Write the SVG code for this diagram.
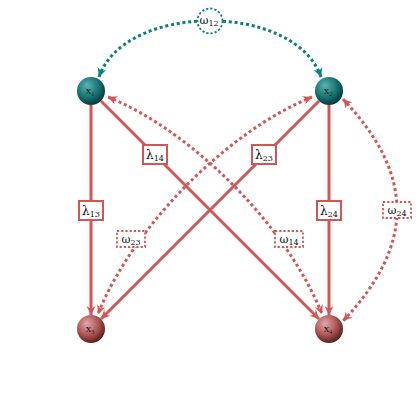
<svg xmlns="http://www.w3.org/2000/svg" width="420" height="420" viewBox="0 0 420 420">
<defs>
<radialGradient id="gT" cx="40%" cy="35%" r="65%" fx="35%" fy="30%">
<stop offset="0" stop-color="#5ab4b4"/>
<stop offset="0.6" stop-color="#1a7474"/>
<stop offset="1" stop-color="#023e3e"/>
</radialGradient>
<radialGradient id="gR" cx="40%" cy="35%" r="65%" fx="35%" fy="30%">
<stop offset="0" stop-color="#e2a8a8"/>
<stop offset="0.6" stop-color="#ad5656"/>
<stop offset="1" stop-color="#5e1f1f"/>
</radialGradient>
<marker id="aR" viewBox="-10 -6 12 12" refX="0" refY="0" markerWidth="12" markerHeight="12" markerUnits="userSpaceOnUse" orient="auto-start-reverse">
<path d="M0,0 L-9,-4.5 L-6,0 L-9,4.5 Z" fill="#d45555"/>
</marker>
<marker id="aT" viewBox="-10 -6 12 12" refX="0" refY="0" markerWidth="12" markerHeight="12" markerUnits="userSpaceOnUse" orient="auto-start-reverse">
<path d="M0,0 L-9,-4.5 L-6,0 L-9,4.5 Z" fill="#0a7f7f"/>
</marker>
</defs>
<style>
.solid{stroke:#d45555;stroke-width:3;fill:none;marker-end:url(#aR)}
.dotR{stroke:#d45555;stroke-width:3;fill:none;stroke-dasharray:3 2.8;marker-end:url(#aR);marker-start:url(#aR)}
.dotT{stroke:#0a7f7f;stroke-width:3;fill:none;stroke-dasharray:3 2.8;marker-end:url(#aT);marker-start:url(#aT)}
.box{fill:#fff;stroke:#d45555;stroke-width:2}
.dbox{fill:#fff;stroke:#d45555;stroke-width:1.8;stroke-dasharray:2.2 2}
.lab{font-family:"DejaVu Serif","Liberation Serif",serif;font-size:12px;fill:#111;text-anchor:middle}
.sub{font-size:8px}
.nl{font-family:"Liberation Serif","DejaVu Serif",serif;font-size:11px;fill:#111;text-anchor:middle}
</style>
<g id="connectors">
<path class="solid" d="M91,105 L91,315"/>
<path class="solid" d="M101,101 L319,319"/>
<path class="solid" d="M319,101 L101,319"/>
<path class="solid" d="M329,105 L329,315"/>
<path class="dotR" d="M312,97 C230,130 134,224 98,314"/>
<path class="dotR" d="M108,97 C190,130 286,224 322,314"/>
<path class="dotR" d="M343,99 C415,175 415,245 343,321"/>
<path class="dotT" d="M99,77 C125,2 295,2 321,77"/>
</g>
<g id="lambda13"><rect class="box" x="79" y="201" width="24" height="19"/><text class="lab" x="91" y="215">λ<tspan class="sub" dy="2">13</tspan></text></g>
<g id="lambda14"><rect class="box" x="143" y="145" width="24" height="19"/><text class="lab" x="155" y="159">λ<tspan class="sub" dy="2">14</tspan></text></g>
<g id="lambda23"><rect class="box" x="252" y="145" width="24" height="19"/><text class="lab" x="264" y="159">λ<tspan class="sub" dy="2">23</tspan></text></g>
<g id="lambda24"><rect class="box" x="317" y="201" width="24" height="19"/><text class="lab" x="329" y="215">λ<tspan class="sub" dy="2">24</tspan></text></g>
<g id="omega23"><rect class="dbox" x="117" y="231" width="28" height="16"/><text class="lab" x="131" y="243" style="font-size:11px">ω<tspan class="sub" dy="2">23</tspan></text></g>
<g id="omega14"><rect class="dbox" x="275" y="231" width="28" height="16"/><text class="lab" x="289" y="243" style="font-size:11px">ω<tspan class="sub" dy="2">14</tspan></text></g>
<g id="omega24"><rect class="dbox" x="383" y="202" width="28" height="16"/><text class="lab" x="397" y="214" style="font-size:11px">ω<tspan class="sub" dy="2">24</tspan></text></g>
<g id="omega12"><circle cx="210" cy="21" r="12.5" fill="#fff" stroke="#0a7f7f" stroke-width="1.8" stroke-dasharray="2.2 2"/><text class="lab" x="209" y="24" style="font-size:11px">ω<tspan class="sub" dy="2">12</tspan></text></g>
<g id="x1"><circle cx="91" cy="91" r="14" fill="url(#gT)"/><text class="nl" x="90" y="94">x<tspan style="font-size:6px" dy="1.5">1</tspan></text></g>
<g id="x2"><circle cx="329" cy="91" r="14" fill="url(#gT)"/><text class="nl" x="328" y="94">x<tspan style="font-size:6px" dy="1.5">2</tspan></text></g>
<g id="x3"><circle cx="91" cy="329" r="14" fill="url(#gR)"/><text class="nl" x="90" y="332">x<tspan style="font-size:6px" dy="1.5">3</tspan></text></g>
<g id="x4"><circle cx="329" cy="329" r="14" fill="url(#gR)"/><text class="nl" x="328" y="332">x<tspan style="font-size:6px" dy="1.5">4</tspan></text></g>
</svg>
